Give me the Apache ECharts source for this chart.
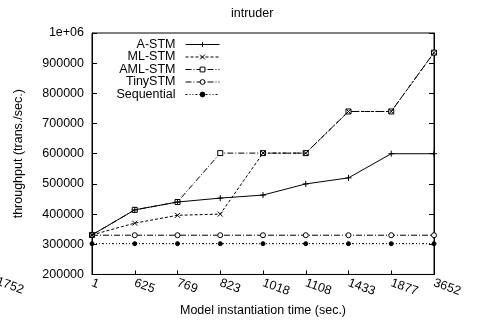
<!DOCTYPE html>
<html>
<head>
<meta charset="utf-8">
<script src="https://cdn.jsdelivr.net/npm/echarts@6/dist/echarts.min.js"></script>
<style>html,body{margin:0;padding:0;background:#fff;}#c{width:480px;height:322px;}</style>
</head>
<body>
<div id="c"></div>
<script>
var categories = ['1', '625', '769', '823', '1018', '1108', '1433', '1877', '3652'];
var aStm    = [331000, 414000, 440000, 453000, 463000, 500000, 520000, 600000, 600000];
var mlStm   = [331000, 370000, 396000, 400000, 602000, 602000, 740000, 740000, 935000];
var amlStm  = [331000, 414000, 440000, 602000, 602000, 602000, 740000, 740000, 935000];
var tinyStm = [330000, 330000, 330000, 330000, 330000, 330000, 330000, 330000, 330000];
var sequential = [302000, 302000, 302000, 302000, 302000, 302000, 302000, 302000, 302000];
var yTicks = [200000, 300000, 400000, 500000, 600000, 700000, 800000, 900000, 1000000];

var FONT = 'Liberation Sans, Arial, Helvetica, sans-serif';
var FS = 12.5;
var plusPath = 'path://M0,5L10,5M5,0L5,10';
var crossPath = 'path://M0,0L10,10M10,0L0,10';

function mkSeries(name, data, symbol, size, dash, z, fill) {
  return {
    name: name, type: 'line', data: data, yAxisIndex: 0,
    symbol: symbol, symbolSize: size, showSymbol: true,
    lineStyle: { color: '#000', width: 1, type: dash },
    itemStyle: { color: fill || '#000', borderColor: '#000', borderWidth: 1 },
    z: z, animation: false
  };
}

var chart = echarts.init(document.getElementById('c'), null, { renderer: 'canvas' });
chart.setOption({
  backgroundColor: '#fff',
  animation: false,
  textStyle: { fontFamily: FONT },
  title: {
    text: 'intruder', left: 231, top: 7, padding: 0,
    textStyle: { fontSize: FS, fontWeight: 'normal', color: '#000', fontFamily: FONT }
  },
  grid: { left: 92, right: 46, top: 33, bottom: 44, show: true, borderColor: '#000', borderWidth: 1, backgroundColor: 'transparent' },
  legend: {
    orient: 'vertical', align: 'right', right: 260, top: 38, padding: 0,
    itemWidth: 34, itemHeight: 6, itemGap: -0.5,
    lineStyle: { width: 1 },
    itemStyle: { borderWidth: 1 },
    textStyle: { fontSize: FS, color: '#000', fontFamily: FONT, lineHeight: 11, padding: [0, 5, 0, 0] },
    data: ['A-STM', 'ML-STM', 'AML-STM', 'TinySTM', 'Sequential']
  },
  xAxis: {
    type: 'category', data: categories, boundaryGap: false,
    name: 'Model instantiation time (sec.)', nameLocation: 'middle', nameGap: 25,
    nameTextStyle: { fontSize: FS, color: '#000', fontFamily: FONT },
    axisLine: { lineStyle: { color: '#000', width: 1 } },
    axisTick: { inside: true, length: 4, lineStyle: { color: '#000' } },
    axisLabel: { rotate: -20, margin: 8, fontSize: FS, color: '#000', fontFamily: FONT },
    splitLine: { show: false }
  },
  yAxis: [{
    type: 'value', min: 200000, max: 1000000, interval: 100000, position: 'left',
    name: 'throughput (trans./sec.)', nameLocation: 'middle', nameGap: 67,
    nameTextStyle: { fontSize: FS, color: '#000', fontFamily: FONT },
    axisLine: { show: true, lineStyle: { color: '#000', width: 1 } },
    axisTick: { show: true, inside: true, length: 5, lineStyle: { color: '#000' } },
    axisLabel: { margin: 8, fontSize: FS, color: '#000', fontFamily: FONT,
      formatter: function (v) { return v === 1000000 ? '1e+06' : String(v); } },
    splitLine: { show: false }
  }, {
    type: 'value', min: 200000, max: 1000000, interval: 100000, position: 'right',
    axisLine: { show: true, lineStyle: { color: '#000', width: 1 } },
    axisTick: { show: true, inside: true, length: 5, lineStyle: { color: '#000' } },
    axisLabel: { show: false },
    splitLine: { show: false }
  }],
  series: [
    mkSeries('A-STM', aStm, plusPath, 6, 'solid', 5),
    mkSeries('ML-STM', mlStm, crossPath, 5, [3, 2], 4),
    mkSeries('AML-STM', amlStm, 'rect', 5, [6, 2, 1, 2], 3, '#fff'),
    mkSeries('TinySTM', tinyStm, 'circle', 5, [6, 2, 1, 2], 2, '#fff'),
    mkSeries('Sequential', sequential, 'circle', 4, [2, 2, 1, 2, 1, 2], 1)
  ],
  graphic: [{
    type: 'text', x: -3, y: 281, rotation: -20 * Math.PI / 180,
    style: { text: '1752', fontSize: FS, fontFamily: FONT, fill: '#000', align: 'left', verticalAlign: 'middle' }
  }]
});
</script>
</body>
</html>
